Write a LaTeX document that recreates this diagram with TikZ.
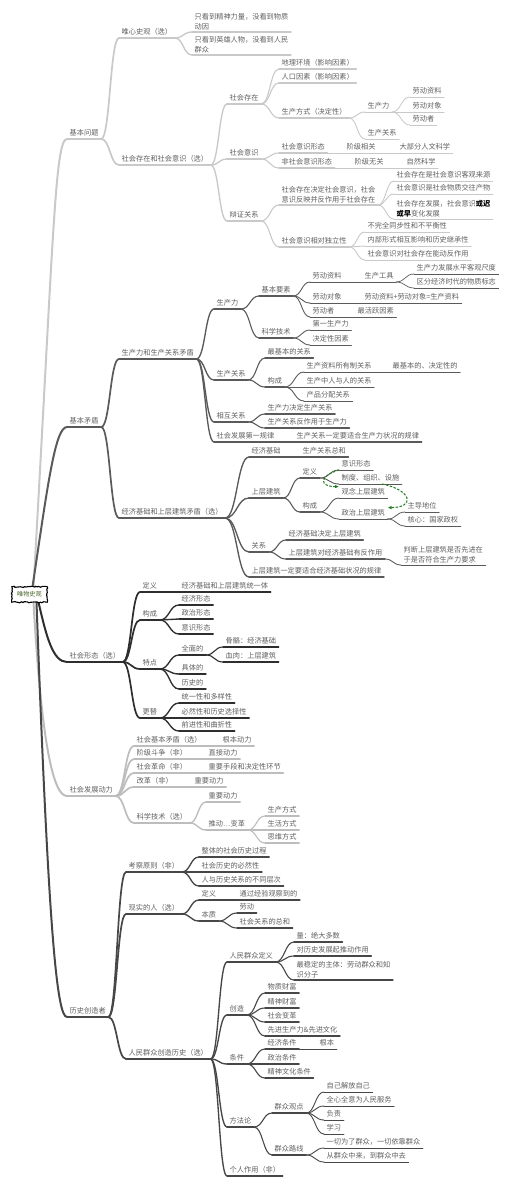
\documentclass[tikz,border=0pt]{standalone}
\usepackage{fontspec}
\usepackage{tikz}
\usetikzlibrary{calc,arrows.meta,decorations.pathmorphing}
\newfontfamily\cjk{Noto Sans CJK SC}
\definecolor{lineA}{HTML}{C9C9C9}
\definecolor{lineB}{HTML}{5A5A5A}
\definecolor{lineC}{HTML}{2E2E2E}
\definecolor{lineD}{HTML}{BDBDBD}
\definecolor{lineE}{HTML}{474747}
\definecolor{txt}{HTML}{5F5F5F}
\definecolor{rootgreen}{HTML}{4B6428}
\definecolor{arrowgreen}{HTML}{1E7B1E}

\begin{document}
\begin{tikzpicture}[x=1pt, y=-1pt,
    every node/.style={font=\cjk\fontsize{7.2}{10}\selectfont, text=txt, anchor=south west,
        inner xsep=2.5pt, inner ysep=2pt, text height=6pt, text depth=1pt},
    every edge/.style={draw, line cap=round,
        to path={.. controls ($(\tikztostart)!.5!(\tikztostart -| \tikztotarget)$)
            and ($(\tikztotarget)!.5!(\tikztotarget -| \tikztostart)$) .. (\tikztotarget)}},
    uline/.style={append after command={(\tikzlastnode.south west) edge[#1] (\tikzlastnode.south east)}},
    ml/.style={align=left, text height=, text depth=},
    b1/.style={color=lineA}, b2/.style={color=lineB}, b3/.style={color=lineC},
    b4/.style={color=lineD}, b5/.style={color=lineE},
    l1/.style={line width=2pt}, l2/.style={line width=1.7pt}, l3/.style={line width=1.35pt},
    l4/.style={line width=1.1pt}, l5/.style={line width=0.9pt}, l6/.style={line width=0.8pt},
    l7/.style={line width=0.7pt},
    root/.style={anchor=center, text=rootgreen, font=\cjk\fontsize{6.2}{7}\selectfont,
        minimum width=35pt, minimum height=15pt, inner sep=1pt, text height=, text depth=},
    rootedge/.style={draw=black, fill=white, line width=1.1pt, decorate,
        decoration={random steps, segment length=1.6pt, amplitude=0.6pt}},
    garrow/.style={draw=arrowgreen, line width=1pt, dash pattern=on 2.5pt off 1.5pt,
        -{Latex[length=4pt,width=3.5pt]}}
]
    \useasboundingbox (0,0) rectangle (507,1188);

    \node[uline={b1,l1}] (q0) at (67,139) {基本问题};
    \node[uline={b1,l2}] (qa) at (119,38) {唯心史观（选）};
    \node[uline={b1,l3},ml] (qa1) at (192,32) {只看到精神力量，没看到物质\\动因};
    \node[uline={b1,l3},ml] (qa2) at (192,55) {只看到英雄人物，没看到人民\\群众};
    \node[uline={b1,l2}] (qb) at (119,165) {社会存在和社会意识（选）};
    \node[uline={b1,l3}] (cz) at (227,104) {社会存在};
    \node[uline={b1,l4}] (cz1) at (279,69) {地理环境（影响因素）};
    \node[uline={b1,l4}] (cz2) at (279,83) {人口因素（影响因素）};
    \node[uline={b1,l4}] (cz3) at (279,118) {生产方式（决定性）};
    \node[uline={b1,l5}] (scl) at (365,112) {生产力};
    \node[uline={b1,l5}] (scgx) at (365,139) {生产关系};
    \node[uline={b1,l6}] (ld1) at (410,97) {劳动资料};
    \node[uline={b1,l6}] (ld2) at (410,112) {劳动对象};
    \node[uline={b1,l6}] (ld3) at (410,125) {劳动者};
    \node[uline={b1,l3}] (ys) at (227,159) {社会意识};
    \node[uline={b1,l4}] (ys1) at (279,153) {社会意识形态};
    \node[uline={b1,l5}] (ys11) at (344,153) {阶级相关};
    \node[uline={b1,l6}] (ys12) at (397,153) {大部分人文科学};
    \node[uline={b1,l4}] (ys2) at (279,168) {非社会意识形态};
    \node[uline={b1,l5}] (ys21) at (352,168) {阶级无关};
    \node[uline={b1,l6}] (ys22) at (404,168) {自然科学};
    \node[uline={b1,l3}] (bz) at (227,221) {辩证关系};
    \node[uline={b1,l4},ml] (bz1) at (279,205) {社会存在决定社会意识，社会\\意识反映并反作用于社会存在};
    \node[uline={b1,l5}] (bz11) at (394,181) {社会存在是社会意识客观来源};
    \node[uline={b1,l5}] (bz12) at (394,194) {社会意识是社会物质交往产物};
    \node[uline={b1,l5},ml] (bz13) at (394,219) {社会存在发展，社会意识{\bfseries\color{black}或迟}\\{\bfseries\color{black}或早}变化发展};
    \node[uline={b1,l4}] (bz2) at (279,247) {社会意识相对独立性};
    \node[uline={b1,l5}] (bz21) at (365,232) {不完全同步性和不平衡性};
    \node[uline={b1,l5}] (bz22) at (365,246) {内部形式相互影响和历史继承性};
    \node[uline={b1,l5}] (bz23) at (365,260) {社会意识对社会存在能动反作用};

    \node[uline={b2,l1}] (m0) at (67,427) {基本矛盾};
    \node[uline={b2,l2}] (ma) at (119,359) {生产力和生产关系矛盾};
    \node[uline={b2,l3}] (pf) at (214,309) {生产力};
    \node[uline={b2,l4}] (pf1) at (259,296) {基本要素};
    \node[uline={b2,l5}] (yz1) at (310,282) {劳动资料};
    \node[uline={b2,l6}] (gj) at (362,282) {生产工具};
    \node[uline={b2,l7}] (gj1) at (414,274) {生产力发展水平客观尺度};
    \node[uline={b2,l7}] (gj2) at (414,288) {区分经济时代的物质标志};
    \node[uline={b2,l5}] (yz2) at (310,303) {劳动对象};
    \node[uline={b2,l6}] (yz21) at (362,303) {劳动资料+劳动对象=生产资料};
    \node[uline={b2,l5}] (yz3) at (310,317) {劳动者};
    \node[uline={b2,l6}] (yz31) at (355,317) {最活跃因素};
    \node[uline={b2,l4}] (pf2) at (259,338) {科学技术};
    \node[uline={b2,l5}] (kj1) at (310,330) {第一生产力};
    \node[uline={b2,l5}] (kj2) at (310,345) {决定性因素};
    \node[uline={b2,l3}] (pr) at (214,380) {生产关系};
    \node[uline={b2,l4}] (pr1) at (265,358) {最基本的关系};
    \node[uline={b2,l4}] (pr2) at (265,387) {构成};
    \node[uline={b2,l5}] (gc1) at (304,372) {生产资料所有制关系};
    \node[uline={b2,l6}] (gc11) at (390,372) {最基本的、决定性的};
    \node[uline={b2,l5}] (gc2) at (304,387) {生产中人与人的关系};
    \node[uline={b2,l5}] (gc3) at (304,401) {产品分配关系};
    \node[uline={b2,l3}] (hx) at (214,422) {相互关系};
    \node[uline={b2,l4}] (hx1) at (265,414) {生产力决定生产关系};
    \node[uline={b2,l4}] (hx2) at (265,428) {生产关系反作用于生产力};
    \node[uline={b2,l3}] (gl) at (214,442) {社会发展第一规律};
    \node[uline={b2,l4}] (gl1) at (294,442) {生产关系一定要适合生产力状况的规律};
    \node[uline={b2,l2}] (mb) at (119,518) {经济基础和上层建筑矛盾（选）};
    \node[uline={b2,l3}] (jj) at (249,457) {经济基础};
    \node[uline={b2,l4}] (jj1) at (300,457) {生产关系总和};
    \node[uline={b2,l3}] (sc) at (249,498) {上层建筑};
    \node[uline={b2,l4}] (sc1) at (300,478) {定义};
    \node[uline={b2,l5}] (yx) at (339,470) {意识形态};
    \node[uline={b2,l5}] (zd) at (339,484) {制度、组织、设施};
    \node[uline={b2,l4}] (sc2) at (300,512) {构成};
    \node[uline={b2,l5}] (gn) at (339,498) {观念上层建筑};
    \node[uline={b2,l5}] (zz) at (339,519) {政治上层建筑};
    \node[uline={b2,l6}] (zz1) at (405,512) {主导地位};
    \node[uline={b2,l6}] (zz2) at (405,526) {核心：国家政权};
    \node[uline={b2,l3}] (gx) at (249,552) {关系};
    \node[uline={b2,l4}] (gx1) at (286,540) {经济基础决定上层建筑};
    \node[uline={b2,l4}] (gx2) at (286,559) {上层建筑对经济基础有反作用};
    \node[uline={b2,l5},ml] (gx21) at (401,565) {判断上层建筑是否先进在\\于是否符合生产力要求};
    \node[uline={b2,l3}] (sy) at (249,577) {上层建筑一定要适合经济基础状况的规律};

    \node[uline={b3,l1}] (s0) at (67,662) {社会形态（选）};
    \node[uline={b3,l2}] (xd) at (140,592) {定义};
    \node[uline={b3,l3}] (xd1) at (179,592) {经济基础和上层建筑统一体};
    \node[uline={b3,l2}] (xg) at (140,620) {构成};
    \node[uline={b3,l3}] (xg1) at (179,605) {经济形态};
    \node[uline={b3,l3}] (xg2) at (179,619) {政治形态};
    \node[uline={b3,l3}] (xg3) at (179,634) {意识形态};
    \node[uline={b3,l2}] (td) at (140,669) {特点};
    \node[uline={b3,l3}] (td1) at (179,655) {全面的};
    \node[uline={b3,l4}] (td11) at (223,647) {骨骼：经济基础};
    \node[uline={b3,l4}] (td12) at (223,662) {血肉：上层建筑};
    \node[uline={b3,l3}] (td2) at (179,674) {具体的};
    \node[uline={b3,l3}] (td3) at (179,689) {历史的};
    \node[uline={b3,l2}] (gt) at (140,718) {更替};
    \node[uline={b3,l3}] (gt1) at (179,703) {统一性和多样性};
    \node[uline={b3,l3}] (gt2) at (179,718) {必然性和历史选择性};
    \node[uline={b3,l3}] (gt3) at (179,731) {前进性和曲折性};

    \node[uline={b4,l1}] (d0) at (67,796) {社会发展动力};
    \node[uline={b4,l2}] (dl1) at (134,746) {社会基本矛盾（选）};
    \node[uline={b4,l3}] (dl11) at (220,746) {根本动力};
    \node[uline={b4,l2}] (dl2) at (134,759) {阶级斗争（非）};
    \node[uline={b4,l3}] (dl21) at (206,759) {直接动力};
    \node[uline={b4,l2}] (dl3) at (134,773) {社会革命（非）};
    \node[uline={b4,l3}] (dl31) at (206,773) {重要手段和决定性环节};
    \node[uline={b4,l2}] (dl4) at (134,787) {改革（非）};
    \node[uline={b4,l3}] (dl41) at (192,787) {重要动力};
    \node[uline={b4,l2}] (dl5) at (134,823) {科学技术（选）};
    \node[uline={b4,l3}] (dl51) at (206,802) {重要动力};
    \node[uline={b4,l3}] (dl52) at (206,830) {推动…变革};
    \node[uline={b4,l4}] (fs1) at (265,816) {生产方式};
    \node[uline={b4,l4}] (fs2) at (265,830) {生活方式};
    \node[uline={b4,l4}] (fs3) at (265,843) {思维方式};

    \node[uline={b5,l1}] (h0) at (67,1017) {历史创造者};
    \node[uline={b5,l2}] (kc) at (126,872) {考察原则（非）};
    \node[uline={b5,l3}] (kc1) at (199,857) {整体的社会历史过程};
    \node[uline={b5,l3}] (kc2) at (199,872) {社会历史的必然性};
    \node[uline={b5,l3}] (kc3) at (199,886) {人与历史关系的不同层次};
    \node[uline={b5,l2}] (xs) at (126,914) {现实的人（选）};
    \node[uline={b5,l3}] (xs1) at (199,900) {定义};
    \node[uline={b5,l4}] (xs11) at (237,900) {通过经验观察到的};
    \node[uline={b5,l3}] (xs2) at (199,921) {本质};
    \node[uline={b5,l4}] (xs21) at (237,913) {劳动};
    \node[uline={b5,l4}] (xs22) at (237,928) {社会关系的总和};
    \node[uline={b5,l2}] (rm) at (126,1059) {人民群众创造历史（选）};
    \node[uline={b5,l3}] (rm1) at (227,962) {人民群众定义};
    \node[uline={b5,l4}] (rm11) at (294,942) {量：绝大多数};
    \node[uline={b5,l4}] (rm12) at (294,956) {对历史发展起推动作用};
    \node[uline={b5,l4},ml] (rm13) at (294,980) {最稳定的主体：劳动群众和知\\识分子};
    \node[uline={b5,l3}] (rm2) at (227,1015) {创造};
    \node[uline={b5,l4}] (cc1) at (265,993) {物质财富};
    \node[uline={b5,l4}] (cc2) at (265,1008) {精神财富};
    \node[uline={b5,l4}] (cc3) at (265,1022) {社会变革};
    \node[uline={b5,l4}] (cc4) at (265,1036) {先进生产力\&先进文化};
    \node[uline={b5,l3}] (rm3) at (227,1064) {条件};
    \node[uline={b5,l4}] (tj1) at (265,1049) {经济条件};
    \node[uline={b5,l5}] (tj11) at (317,1049) {根本};
    \node[uline={b5,l4}] (tj2) at (265,1064) {政治条件};
    \node[uline={b5,l4}] (tj3) at (265,1078) {精神文化条件};
    \node[uline={b5,l3}] (rm4) at (227,1127) {方法论};
    \node[uline={b5,l4}] (ff1) at (272,1113) {群众观点};
    \node[uline={b5,l5}] (gd1) at (324,1092) {自己解放自己};
    \node[uline={b5,l5}] (gd2) at (324,1106) {全心全意为人民服务};
    \node[uline={b5,l5}] (gd3) at (324,1120) {负责};
    \node[uline={b5,l5}] (gd4) at (324,1134) {学习};
    \node[uline={b5,l4}] (ff2) at (272,1155) {群众路线};
    \node[uline={b5,l5}] (lx1) at (324,1148) {一切为了群众，一切依靠群众};
    \node[uline={b5,l5}] (lx2) at (324,1162) {从群众中来，到群众中去};
    \node[uline={b5,l3}] (rm5) at (227,1176) {个人作用（非）};

    \path[b1,l2] (q0.south east) edge (qa.south west) edge (qb.south west);
    \path[b1,l3] (qa.south east) edge (qa1.south west) edge (qa2.south west);
    \path[b1,l3] (qb.south east) edge (cz.south west) edge (ys.south west) edge (bz.south west);
    \path[b1,l4] (cz.south east) edge (cz1.south west) edge (cz2.south west) edge (cz3.south west);
    \path[b1,l5] (cz3.south east) edge (scl.south west) edge (scgx.south west);
    \path[b1,l6] (scl.south east) edge (ld1.south west) edge (ld2.south west) edge (ld3.south west);
    \path[b1,l4] (ys.south east) edge (ys1.south west) edge (ys2.south west);
    \path[b1,l5] (ys1.south east) edge (ys11.south west);
    \path[b1,l6] (ys11.south east) edge (ys12.south west);
    \path[b1,l5] (ys2.south east) edge (ys21.south west);
    \path[b1,l6] (ys21.south east) edge (ys22.south west);
    \path[b1,l4] (bz.south east) edge (bz1.south west) edge (bz2.south west);
    \path[b1,l5] (bz1.south east) edge (bz11.south west) edge (bz12.south west) edge (bz13.south west);
    \path[b1,l5] (bz2.south east) edge (bz21.south west) edge (bz22.south west) edge (bz23.south west);

    \path[b2,l2] (m0.south east) edge (ma.south west) edge (mb.south west);
    \path[b2,l3] (ma.south east) edge (pf.south west) edge (pr.south west) edge (hx.south west) edge (gl.south west);
    \path[b2,l4] (pf.south east) edge (pf1.south west) edge (pf2.south west);
    \path[b2,l5] (pf1.south east) edge (yz1.south west) edge (yz2.south west) edge (yz3.south west);
    \path[b2,l6] (yz1.south east) edge (gj.south west);
    \path[b2,l7] (gj.south east) edge (gj1.south west) edge (gj2.south west);
    \path[b2,l6] (yz2.south east) edge (yz21.south west);
    \path[b2,l6] (yz3.south east) edge (yz31.south west);
    \path[b2,l5] (pf2.south east) edge (kj1.south west) edge (kj2.south west);
    \path[b2,l4] (pr.south east) edge (pr1.south west) edge (pr2.south west);
    \path[b2,l5] (pr2.south east) edge (gc1.south west) edge (gc2.south west) edge (gc3.south west);
    \path[b2,l6] (gc1.south east) edge (gc11.south west);
    \path[b2,l4] (hx.south east) edge (hx1.south west) edge (hx2.south west);
    \path[b2,l4] (gl.south east) edge (gl1.south west);
    \path[b2,l3] (mb.south east) edge (jj.south west) edge (sc.south west) edge (gx.south west) edge (sy.south west);
    \path[b2,l4] (jj.south east) edge (jj1.south west);
    \path[b2,l4] (sc.south east) edge (sc1.south west) edge (sc2.south west);
    \path[b2,l5] (sc1.south east) edge (yx.south west) edge (zd.south west);
    \path[b2,l5] (sc2.south east) edge (gn.south west) edge (zz.south west);
    \path[b2,l6] (zz.south east) edge (zz1.south west) edge (zz2.south west);
    \path[b2,l4] (gx.south east) edge (gx1.south west) edge (gx2.south west);
    \path[b2,l5] (gx2.south east) edge (gx21.south west);

    \path[b3,l2] (s0.south east) edge (xd.south west) edge (xg.south west) edge (td.south west) edge (gt.south west);
    \path[b3,l3] (xd.south east) edge (xd1.south west);
    \path[b3,l3] (xg.south east) edge (xg1.south west) edge (xg2.south west) edge (xg3.south west);
    \path[b3,l3] (td.south east) edge (td1.south west) edge (td2.south west) edge (td3.south west);
    \path[b3,l4] (td1.south east) edge (td11.south west) edge (td12.south west);
    \path[b3,l3] (gt.south east) edge (gt1.south west) edge (gt2.south west) edge (gt3.south west);

    \path[b4,l2] (d0.south east) edge (dl1.south west) edge (dl2.south west) edge (dl3.south west) edge (dl4.south west) edge (dl5.south west);
    \path[b4,l3] (dl1.south east) edge (dl11.south west);
    \path[b4,l3] (dl2.south east) edge (dl21.south west);
    \path[b4,l3] (dl3.south east) edge (dl31.south west);
    \path[b4,l3] (dl4.south east) edge (dl41.south west);
    \path[b4,l3] (dl5.south east) edge (dl51.south west) edge (dl52.south west);
    \path[b4,l4] (dl52.south east) edge (fs1.south west) edge (fs2.south west) edge (fs3.south west);

    \path[b5,l2] (h0.south east) edge (kc.south west) edge (xs.south west) edge (rm.south west);
    \path[b5,l3] (kc.south east) edge (kc1.south west) edge (kc2.south west) edge (kc3.south west);
    \path[b5,l3] (xs.south east) edge (xs1.south west) edge (xs2.south west);
    \path[b5,l4] (xs1.south east) edge (xs11.south west);
    \path[b5,l4] (xs2.south east) edge (xs21.south west) edge (xs22.south west);
    \path[b5,l3] (rm.south east) edge (rm1.south west) edge (rm2.south west) edge (rm3.south west) edge (rm4.south west) edge (rm5.south west);
    \path[b5,l4] (rm1.south east) edge (rm11.south west) edge (rm12.south west) edge (rm13.south west);
    \path[b5,l4] (rm2.south east) edge (cc1.south west) edge (cc2.south west) edge (cc3.south west) edge (cc4.south west);
    \path[b5,l4] (rm3.south east) edge (tj1.south west) edge (tj2.south west) edge (tj3.south west);
    \path[b5,l5] (tj1.south east) edge (tj11.south west);
    \path[b5,l4] (rm4.south east) edge (ff1.south west) edge (ff2.south west);
    \path[b5,l5] (ff1.south east) edge (gd1.south west) edge (gd2.south west) edge (gd3.south west) edge (gd4.south west);
    \path[b5,l5] (ff2.south east) edge (lx1.south west) edge (lx2.south west);

    \node[root] (root) at (29.5,594.5) {\phantom{唯物史观}};
    \draw[b1,l1] ([xshift=4pt]root.north) .. controls +(20,-350) and +(-12,0) .. (q0.south west);
    \draw[b2,l1] ([xshift=3pt]root.north) .. controls +(15,-100) and +(-12,0) .. (m0.south west);
    \draw[b3,l1] ([xshift=9pt]root.south) .. controls +(8,35) and +(-14,0) .. (s0.south west);
    \draw[b4,l1] ([xshift=4pt]root.south) .. controls +(8,140) and +(-14,0) .. (d0.south west);
    \draw[b5,l1] ([xshift=7pt]root.south) .. controls +(12,330) and +(-10,0) .. (h0.south west);
    \draw[rootedge] (root.south west) -- (root.south east) -- (root.north east) -- (root.north west) -- cycle;
    \node[root] (rootlabel) at (root.center) {唯物史观};

    \draw[garrow] (yx.south west) .. controls +(-20,6) and +(-20,0) .. (gn.north west);
    \draw[garrow] ([xshift=-20pt]zd.south east) .. controls +(30,6) and +(28,0) .. (zz.north east);
\end{tikzpicture}
\end{document}
